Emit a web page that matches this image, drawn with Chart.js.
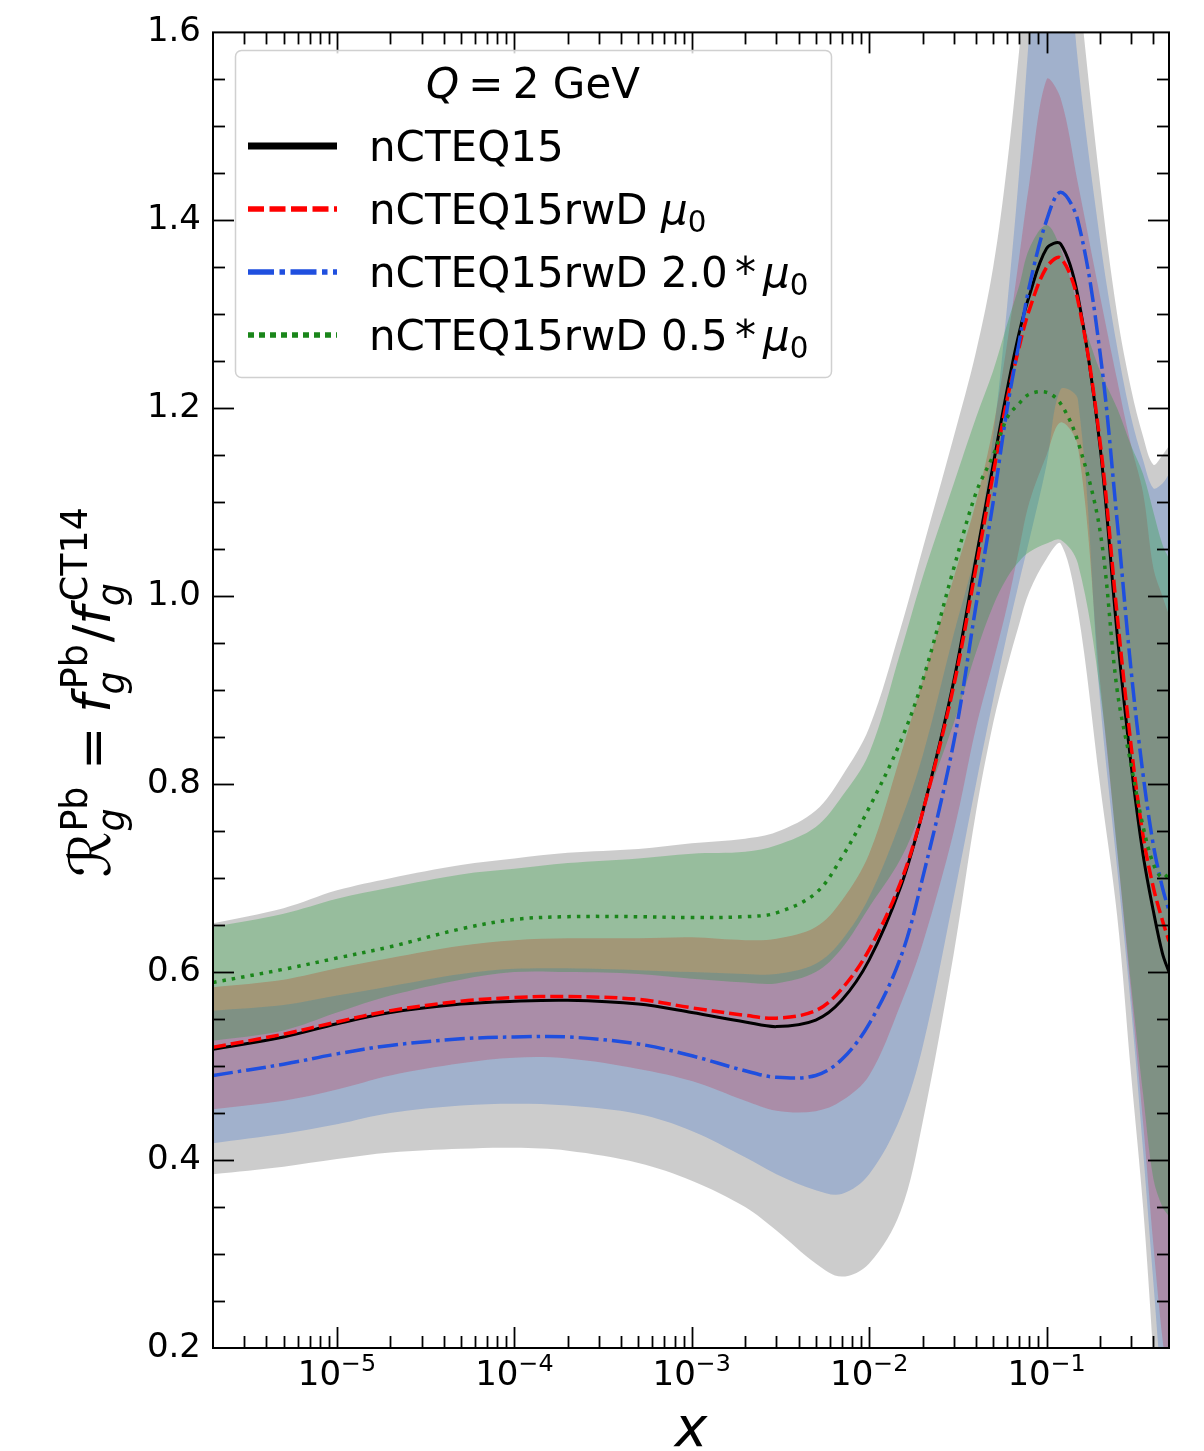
<!DOCTYPE html>
<html>
<head>
<meta charset="utf-8">
<title>Gluon ratio Pb / CT14 at Q = 2 GeV</title>
<script src="https://cdn.jsdelivr.net/npm/chart.js@4.4.0/dist/chart.umd.min.js"></script>
<style>
  html, body { margin: 0; padding: 0; background: #fff; }
  #ratio { display: block; }
</style>
</head>
<body>
<canvas id="ratio" width="1204" height="1451"></canvas>
<script>
// x grid (momentum fraction)
const xs = [2e-6, 5e-6, 1e-5, 2e-5, 5e-5, 1e-4, 2e-4, 5e-4, 1e-3, 2e-3, 3e-3, 5e-3, 7e-3,
  1e-2, 1.5e-2, 2e-2, 3e-2, 4e-2, 5e-2, 6e-2, 7e-2, 8e-2, 0.1, 0.12, 0.15, 0.2, 0.25, 0.3, 0.35, 0.4, 0.45, 0.49];

// central values
const ncteq = [0.518, 0.531, 0.545, 0.557, 0.566, 0.569, 0.570, 0.566, 0.557, 0.547, 0.542, 0.549, 0.570,
  0.613, 0.69, 0.77, 0.91, 1.04, 1.14, 1.22, 1.28, 1.32, 1.37, 1.375, 1.32, 1.16, 0.96, 0.82, 0.725, 0.665, 0.62, 0.60];
const rw = [0.520, 0.534, 0.547, 0.559, 0.569, 0.573, 0.574, 0.571, 0.562, 0.554, 0.551, 0.559, 0.582,
  0.624, 0.695, 0.77, 0.905, 1.03, 1.13, 1.21, 1.265, 1.305, 1.35, 1.36, 1.315, 1.165, 0.98, 0.84, 0.745, 0.69, 0.655, 0.633];
const rw2 = [0.490, 0.502, 0.513, 0.522, 0.529, 0.531, 0.531, 0.5235, 0.511, 0.495, 0.488, 0.490, 0.507,
  0.545, 0.615, 0.70, 0.845, 0.99, 1.10, 1.20, 1.27, 1.33, 1.40, 1.43, 1.40, 1.26, 1.08, 0.92, 0.81, 0.735, 0.69, 0.665];
const rw05 = [0.589, 0.603, 0.615, 0.627, 0.646, 0.656, 0.659, 0.659, 0.658, 0.659, 0.663, 0.684, 0.722,
  0.775, 0.845, 0.91, 1.03, 1.11, 1.15, 1.19, 1.205, 1.215, 1.217, 1.205, 1.165, 1.07, 0.90, 0.82, 0.755, 0.715, 0.70, 0.705];

// uncertainty bands (upper / lower edges)
const ncteqHi = [0.652, 0.668, 0.687, 0.700, 0.714, 0.721, 0.727, 0.731, 0.737, 0.742, 0.749, 0.772, 0.808,
  0.86, 0.965, 1.05, 1.17, 1.26, 1.35, 1.46, 1.58, 1.70, 1.85, 1.85, 1.66, 1.44, 1.30, 1.22, 1.17, 1.14, 1.15, 1.16];
const ncteqLo = [0.385, 0.393, 0.401, 0.408, 0.412, 0.413, 0.410, 0.397, 0.378, 0.350, 0.325, 0.290, 0.276,
  0.290, 0.345, 0.44, 0.62, 0.77, 0.865, 0.925, 0.97, 1.005, 1.04, 1.056, 0.985, 0.80, 0.66, 0.49, 0.35, 0.19, 0.02, -0.1];
const rwHi = [0.584, 0.592, 0.604, 0.615, 0.628, 0.634, 0.636, 0.636, 0.637, 0.634, 0.6355, 0.648, 0.676,
  0.726, 0.83, 0.91, 1.02, 1.10, 1.18, 1.27, 1.36, 1.44, 1.55, 1.53, 1.44, 1.32, 1.23, 1.16, 1.11, 1.03, 1.00, 0.98];
const rwLo = [0.454, 0.463, 0.475, 0.490, 0.503, 0.509, 0.508, 0.497, 0.484, 0.463, 0.4525, 0.452, 0.463,
  0.490, 0.565, 0.63, 0.75, 0.86, 0.93, 0.99, 1.05, 1.10, 1.15, 1.185, 1.16, 0.91, 0.73, 0.575, 0.44, 0.31, 0.21, 0.16];
const rw2Hi = [0.559, 0.565, 0.575, 0.585, 0.598, 0.6035, 0.604, 0.602, 0.600, 0.598, 0.598, 0.609, 0.634,
  0.680, 0.76, 0.83, 0.96, 1.05, 1.17, 1.31, 1.45, 1.60, 1.80, 1.78, 1.57, 1.38, 1.265, 1.19, 1.145, 1.115, 1.12, 1.13];
const rw2Lo = [0.418, 0.428, 0.438, 0.450, 0.458, 0.460, 0.458, 0.449, 0.431, 0.403, 0.385, 0.368, 0.364,
  0.385, 0.445, 0.52, 0.68, 0.80, 0.89, 0.96, 1.015, 1.06, 1.14, 1.22, 1.21, 0.89, 0.71, 0.56, 0.41, 0.27, 0.15, 0.10];
const rw05Hi = [0.648, 0.662, 0.678, 0.690, 0.704, 0.710, 0.716, 0.721, 0.726, 0.728, 0.735, 0.7545, 0.7865,
  0.833, 0.94, 1.02, 1.12, 1.19, 1.24, 1.29, 1.33, 1.37, 1.395, 1.37, 1.31, 1.24, 1.20, 1.16, 1.13, 1.09, 1.055, 1.04];
const rw05Lo = [0.527, 0.538, 0.557, 0.575, 0.592, 0.600, 0.600, 0.598, 0.593, 0.589, 0.588, 0.600, 0.625,
  0.669, 0.72, 0.775, 0.865, 0.94, 0.99, 1.02, 1.037, 1.047, 1.056, 1.06, 1.035, 0.90, 0.73, 0.585, 0.47, 0.38, 0.35, 0.34];

const yTicks = [0.2, 0.4, 0.6, 0.8, 1.0, 1.2, 1.4, 1.6];
const xMajor = [1e-5, 1e-4, 1e-3, 1e-2, 1e-1];

const FONT = '"DejaVu Sans"';
Chart.defaults.font.family = FONT;

const pts = arr => arr.map((v, i) => ({ x: xs[i], y: v }));

function band(hi, lo, color, order) {
  return [
    { data: pts(hi), fill: '+1', backgroundColor: color, borderColor: 'rgba(0,0,0,0)', borderWidth: 0,
      pointRadius: 0, order, clip: 0 },
    { data: pts(lo), fill: false, backgroundColor: 'rgba(0,0,0,0)', borderColor: 'rgba(0,0,0,0)', borderWidth: 0,
      pointRadius: 0, order: order - 0.5, clip: 0 }
  ];
}

function curve(arr, color, width, dash, order) {
  return { data: pts(arr), borderColor: color, borderWidth: width, borderDash: dash, fill: false,
    pointRadius: 0, order, clip: 0 };
}

const datasets = [
  ...band(ncteqHi, ncteqLo, 'rgba(128,128,128,0.4)', 20),
  ...band(rwHi, rwLo, 'rgba(255,0,0,0.27)', 18),
  ...band(rw2Hi, rw2Lo, 'rgba(80,125,203,0.35)', 16),
  ...band(rw05Hi, rw05Lo, 'rgba(31,157,51,0.3)', 14),
  curve(ncteq, '#000000', 3, [], 4),
  curve(rw, '#ff0000', 3.5, [13, 5], 3),
  curve(rw2, '#1f4fdf', 3.5, [20, 5, 3.5, 5], 2),
  curve(rw05, '#1a861a', 3.5, [3.5, 6], 1)
];

// text runs: plain, italic, and stacked sub/superscripts
function fnt(px, it) { return (it ? 'italic ' : '') + px + 'px ' + FONT; }
function runs(ctx, list, x, y, size, draw) {
  for (const r of list) {
    if (r.gap) { x += r.gap * size; continue; }
    if (r.sup !== undefined || r.sub !== undefined) {
      const s = size * 0.7;
      let w = 0;
      if (r.sup) {
        const sh = (r.shift || 0) * size;
        ctx.font = fnt(s, r.supIt);
        if (draw) ctx.fillText(r.sup, x + sh, y - (r.up || 0.42) * size);
        w = Math.max(w, sh + ctx.measureText(r.sup).width);
      }
      if (r.sub) {
        ctx.font = fnt(s, r.subIt);
        if (draw) ctx.fillText(r.sub, x, y + (r.down || 0.22) * size);
        w = Math.max(w, ctx.measureText(r.sub).width);
      }
      x += w + (r.after || 0) * size;
      continue;
    }
    ctx.font = fnt(size * (r.s || 1), r.it);
    if (draw) ctx.fillText(r.t, x, y);
    x += ctx.measureText(r.t).width;
  }
  return x;
}

const legendEntries = [
  { label: [{ t: 'nCTEQ15' }], color: '#000000', width: 7, dash: [] },
  { label: [{ t: 'nCTEQ15rwD ' }, { t: 'μ', it: true }, { sub: '0', down: 0.2 }], color: '#ff0000', width: 5.5, dash: [16, 5.5] },
  { label: [{ t: 'nCTEQ15rwD 2.0' }, { gap: 0.17 }, { t: '*' }, { gap: 0.17 }, { t: 'μ', it: true }, { sub: '0', down: 0.2 }],
    color: '#1f4fdf', width: 5.5, dash: [26, 5.5, 5.5, 5.5] },
  { label: [{ t: 'nCTEQ15rwD 0.5' }, { gap: 0.17 }, { t: '*' }, { gap: 0.17 }, { t: 'μ', it: true }, { sub: '0', down: 0.2 }],
    color: '#1a861a', width: 5.5, dash: [6, 5] }
];

const decor = {
  id: 'decor',
  afterDraw(chart) {
    const { ctx, chartArea: a, scales: { x, y } } = chart;
    ctx.save();
    ctx.strokeStyle = '#000';
    ctx.fillStyle = '#000';

    // inward ticks on all four sides
    const seg = (x1, y1, x2, y2) => { ctx.beginPath(); ctx.moveTo(x1, y1); ctx.lineTo(x2, y2); ctx.stroke(); };
    ctx.lineWidth = 1.8;
    for (let e = -6; e <= 0; e++) {
      for (let k = 1; k <= 9; k++) {
        const v = k * Math.pow(10, e);
        if (v <= x.min * 1.001 || v >= x.max * 0.999) continue;
        const px = Math.round(x.getPixelForValue(v)) + 0.5;
        const len = k === 1 ? 21 : 12;
        seg(px, a.bottom, px, a.bottom - len);
        seg(px, a.top, px, a.top + len);
      }
    }
    for (let i = 1; i < 28; i++) {
      const v = 0.2 + i * 0.05;
      const py = Math.round(y.getPixelForValue(v)) + 0.5;
      const len = i % 4 === 0 ? 21 : 12;
      seg(a.left, py, a.left + len, py);
      seg(a.right, py, a.right - len, py);
    }

    // frame
    ctx.lineWidth = 2;
    ctx.strokeRect(a.left, a.top, a.right - a.left, a.bottom - a.top);

    // x tick labels 10^n
    ctx.textAlign = 'left';
    ctx.textBaseline = 'alphabetic';
    for (const v of xMajor) {
      const n = Math.round(Math.log10(v));
      const lab = [{ t: '10' }, { sup: '\u2212' + Math.abs(n), up: 0.4 }];
      const w = runs(ctx, lab, 0, 0, 34, false);
      runs(ctx, lab, x.getPixelForValue(v) - w / 2, 1385, 34, true);
    }

    // axis titles
    ctx.font = fnt(55, true);
    ctx.textAlign = 'center';
    ctx.fillText('x', (a.left + a.right) / 2, 1446);
    ctx.textAlign = 'left';

    const ytitle = [
      { t: '\u211B', s: 1.1 }, { sup: 'Pb', sub: 'g', subIt: true, up: 0.45, down: 0.27, after: 0.06 },
      { gap: 0.26 }, { t: '=' }, { gap: 0.26 },
      { t: 'f', it: true }, { sup: 'Pb', sub: 'g', subIt: true, shift: 0.1, up: 0.45, down: 0.27, after: 0.04 },
      { t: '/' },
      { t: 'f', it: true }, { sup: 'CT14', sub: 'g', subIt: true, shift: 0.1, up: 0.45, down: 0.27 }
    ];
    ctx.save();
    ctx.translate(110, (a.top + a.bottom) / 2 + 2);
    ctx.rotate(-Math.PI / 2);
    const tw = runs(ctx, ytitle, 0, 0, 52, false);
    runs(ctx, ytitle, -tw / 2, 0, 52, true);
    ctx.restore();

    // legend
    ctx.beginPath();
    ctx.roundRect(235.5, 50.5, 596, 327, 6);
    ctx.fillStyle = 'rgba(255,255,255,0.8)';
    ctx.fill();
    ctx.strokeStyle = '#d0d0d0';
    ctx.lineWidth = 1.5;
    ctx.stroke();
    ctx.fillStyle = '#000';

    const title = [{ t: 'Q', it: true }, { gap: 0.22 }, { t: '=' }, { gap: 0.22 }, { t: '2 GeV' }];
    const ttw = runs(ctx, title, 0, 0, 42, false);
    runs(ctx, title, 533 - ttw / 2, 98, 42, true);

    legendEntries.forEach((en, i) => {
      const cy = 146 + i * 63;
      ctx.strokeStyle = en.color;
      ctx.lineWidth = en.width;
      ctx.setLineDash(en.dash);
      seg(248, cy, 337, cy);
      ctx.setLineDash([]);
      ctx.fillStyle = '#000';
      runs(ctx, en.label, 369, cy + 15, 42, true);
    });
    ctx.restore();
  }
};

new Chart(document.getElementById('ratio').getContext('2d'), {
  type: 'line',
  data: { datasets },
  options: {
    responsive: false,
    animation: false,
    events: [],
    elements: { line: { tension: 0.35, capBezierPoints: false } },
    layout: { padding: { top: 30, right: 35, bottom: 0, left: 0 } },
    plugins: { legend: { display: false }, tooltip: { enabled: false } },
    scales: {
      x: {
        type: 'logarithmic', min: 2e-6, max: 0.49,
        afterFit: s => { s.height = 103; },
        ticks: { display: false },
        grid: { display: false, drawTicks: false },
        border: { display: false }
      },
      y: {
        min: 0.2, max: 1.6,
        afterFit: s => { s.width = 213; },
        afterBuildTicks: s => { s.ticks = yTicks.map(v => ({ value: v })); },
        ticks: { callback: v => v.toFixed(1), color: '#000', font: { size: 34, family: FONT }, padding: 12 },
        grid: { display: false, drawTicks: false },
        border: { display: false }
      }
    }
  },
  plugins: [decor]
});
</script>
</body>
</html>
